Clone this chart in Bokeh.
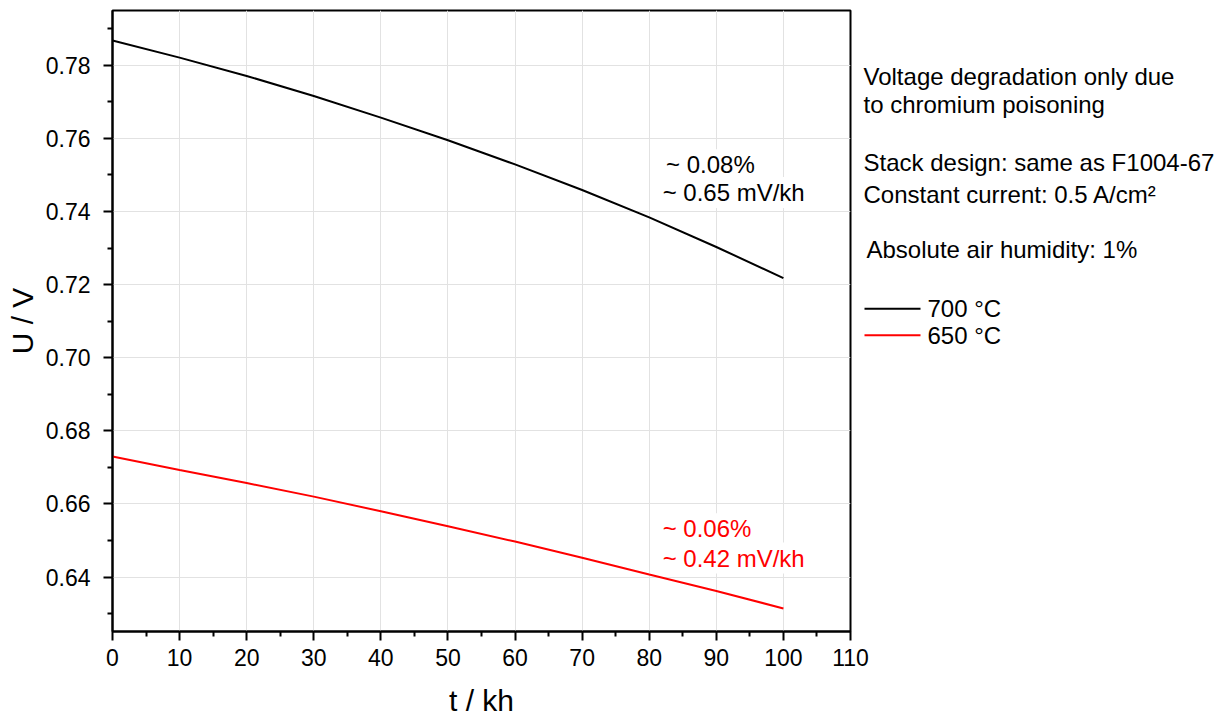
from bokeh.plotting import figure
from bokeh.layouts import row
from bokeh.models import Range1d, FixedTicker, PrintfTickFormatter, Label
from bokeh.core.properties import value
from bokeh.embed import file_html
from bokeh.resources import INLINE

# ---- data ----
t_kh = [0, 10, 20, 30, 40, 50, 60, 70, 80, 90, 100]
u_700 = [0.7868, 0.7821, 0.7771, 0.7716, 0.7657, 0.7595, 0.7529, 0.7459, 0.7384, 0.7303, 0.7218]
u_650 = [0.6730, 0.6693, 0.6657, 0.6620, 0.6580, 0.6539, 0.6497, 0.6453, 0.6407, 0.6362, 0.6314]
series_names = ["700 °C", "650 °C"]
series_colors = ["black", "#ff0000"]
x_ticks = [0, 10, 20, 30, 40, 50, 60, 70, 80, 90, 100, 110]
x_minor = [5, 15, 25, 35, 45, 55, 65, 75, 85, 95, 105]
y_ticks = [0.64, 0.66, 0.68, 0.70, 0.72, 0.74, 0.76, 0.78]
y_minor = [0.63, 0.65, 0.67, 0.69, 0.71, 0.73, 0.75, 0.77, 0.79]
note_700 = ["~ 0.08%", "~ 0.65 mV/kh"]
note_650 = ["~ 0.06%", "~ 0.42 mV/kh"]
info_lines = ["Voltage degradation only due", "to chromium poisoning",
              "Stack design: same as F1004-67", "Constant current: 0.5 A/cm²",
              "Absolute air humidity: 1%"]

FONT = "Liberation Sans"
TICK_FS = "23px"
FS = "24px"

p = figure(width=872, height=720, x_range=Range1d(0, 110), y_range=Range1d(0.6251, 0.795),
           toolbar_location=None, output_backend="svg",
           min_border_left=112, min_border_right=22, min_border_top=10, min_border_bottom=89)
p.outline_line_color = "black"
p.outline_line_width = 2

for ax in (p.xaxis[0], p.yaxis[0]):
    ax.axis_line_width = 2
    ax.axis_line_color = "black"
    ax.major_tick_line_width = 2
    ax.minor_tick_line_width = 2
    ax.major_tick_out = 9
    ax.major_tick_in = 0
    ax.minor_tick_out = 5
    ax.minor_tick_in = 0
    ax.major_label_text_font = FONT
    ax.major_label_text_font_size = TICK_FS
    ax.major_label_text_color = "black"
    ax.axis_label_text_font = FONT
    ax.axis_label_text_font_size = "30px"
    ax.axis_label_text_font_style = "normal"
    ax.axis_label_text_color = "black"

p.xaxis.ticker = FixedTicker(ticks=x_ticks, minor_ticks=x_minor)
p.yaxis.ticker = FixedTicker(ticks=y_ticks, minor_ticks=y_minor)
p.yaxis.formatter = PrintfTickFormatter(format="%.2f")
p.xaxis.axis_label = "t / kh"
p.yaxis.axis_label = "U / V"
p.xaxis.major_label_standoff = 8
p.yaxis.major_label_standoff = 13
p.xaxis.axis_label_standoff = 15
p.yaxis.axis_label_standoff = 4

p.grid.grid_line_color = "#e2e2e2"
p.grid.grid_line_width = 1

p.line(t_kh, u_700, line_color=series_colors[0], line_width=2)
p.line(t_kh, u_650, line_color=series_colors[1], line_width=2)

def note(x, y, txt, color):
    p.add_layout(Label(x=x, y=y, text=txt, text_font=FONT, text_font_size=FS,
                       text_color=color, text_baseline="alphabetic", level="underlay",
                       background_fill_color="white", padding=2))

note(82.2, 0.7528, note_700[0], series_colors[0])
note(81.7, 0.7452, note_700[1], series_colors[0])
note(81.7, 0.6532, note_650[0], series_colors[1])
note(81.7, 0.6452, note_650[1], series_colors[1])

# ---- right-hand info panel (shares the y scale of the chart) ----
q = figure(width=377, height=720, x_range=Range1d(0, 377), y_range=p.y_range,
           toolbar_location=None, output_backend="svg",
           min_border_left=0, min_border_right=0, min_border_top=10, min_border_bottom=89,
           x_axis_location=None, y_axis_location=None)
q.grid.visible = False
q.outline_line_color = None
q.background_fill_alpha = 0
q.border_fill_alpha = 0
q.margin = (0, 0, 0, -20)

info_x = [11, 11, 11, 11, 14]
info_y = [0.77683, 0.76917, 0.75330, 0.74454, 0.72950]
q.text(x=info_x, y=info_y, text=info_lines, text_font=value(FONT), text_font_size=FS,
       text_baseline="alphabetic", text_color="black")

legend_y = [0.71338, 0.70613]
q.segment(x0=[12, 12], y0=legend_y, x1=[68, 68], y1=legend_y,
          line_color=series_colors, line_width=2)
q.text(x=[75, 75], y=legend_y, text=series_names, text_font=value(FONT),
       text_font_size=FS, text_baseline="middle", text_color="black")

layout = row(p, q)
open("out.html", "w").write(file_html(layout, INLINE))
